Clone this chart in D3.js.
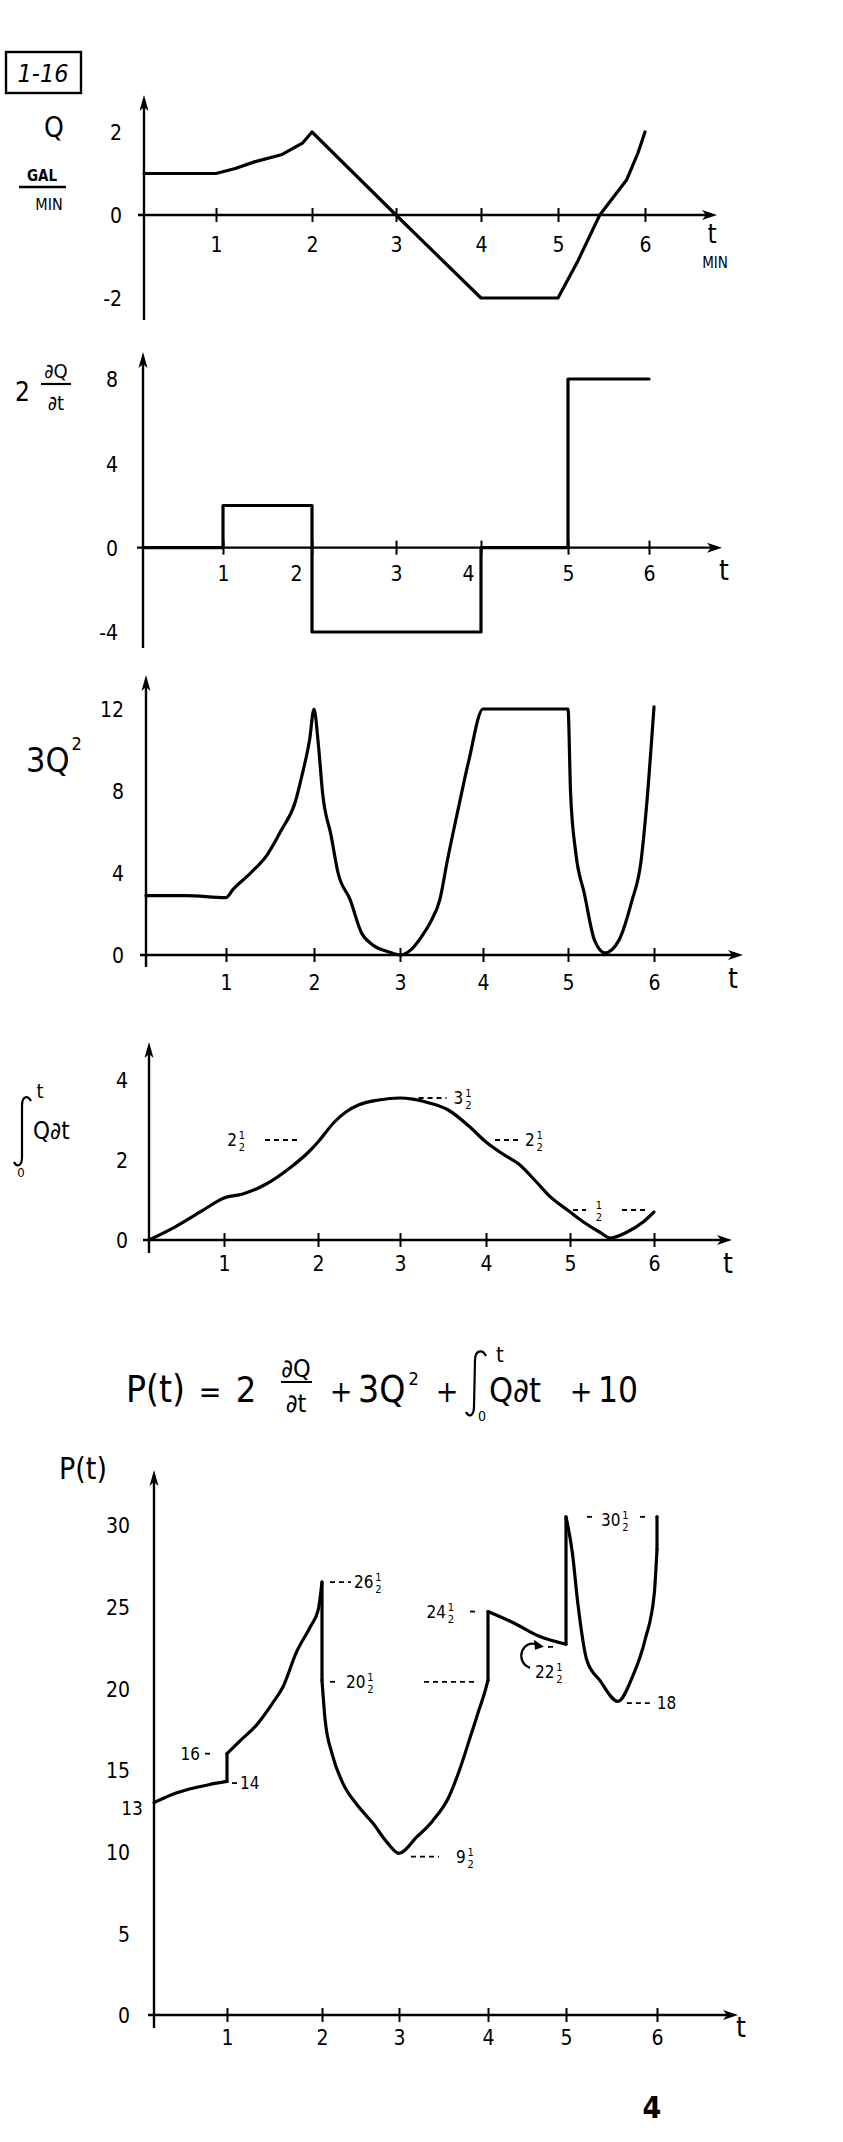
<!DOCTYPE html>
<html><head><meta charset="utf-8">
<script src="https://cdn.jsdelivr.net/npm/d3@7"></script>
<style>
html,body{margin:0;padding:0;background:#fff}
svg{display:block}
text{font-family:"DejaVu Sans Condensed","Liberation Sans Narrow","DejaVu Sans",sans-serif;fill:#000}
</style>
</head><body>
<svg id="c" width="843" height="2142"></svg>
<script>
// ---------- data ----------
const tTicks = [1, 2, 3, 4, 5, 6];
const qTickVals = [-2, 0, 2];
const dqTickVals = [-4, 0, 4, 8];
const q2TickVals = [0, 4, 8, 12];
const intTickVals = [0, 2, 4];
const pTickVals = [0, 5, 10, 15, 20, 25, 30];

const qT = [0, 1, 1.2, 1.4, 1.68, 1.9, 2, 3, 4, 5, 5.23, 5.48, 5.79, 5.92, 6];
const qV = [1, 1, 1.12, 1.28, 1.45, 1.73, 2, 0, -2, -2, -1.1, 0, 0.85, 1.5, 2];

const dqT = [0, 1, 1, 2, 2, 4, 4, 5, 5, 6];
const dqV = [0, 0, 2, 2, -4, -4, 0, 0, 8, 8];

const q2T = [0,0.5,1,1.08,1.28,1.47,1.63,1.79,1.86,1.95,2, 2.05,2.1,2.2,2.28,2.42,2.55,2.68,2.87,3, 3.13,3.26,3.38,3.48,3.57,3.7,3.83,4, 4.5,5,5.03,5.09,5.19,5.31,5.43, 5.59,5.74,5.85,5.91,6];
const q2V = [2.9,2.9,2.8,3.2,4.0,4.9,6.1,7.5,8.7,10.5,12, 10.3,7.9,5.8,4.0,2.7,1.1,0.5,0.15,0, 0.25,0.9,1.7,2.7,4.6,7.1,9.5,12, 12,12,7.9,5.0,3.0,0.7,0.1, 0.7,2.6,4.6,7.1,12.1];

const intT = [0,0.35,0.7,1,1.2,1.45,1.7,1.9,2,2.2, 2.34,2.5,2.74,3,3.15,3.35,3.56,3.8,4,4.2, 4.39,4.6,4.77,4.97,5.16,5.35,5.48,5.68,5.87,6];
const intV = [0,0.33,0.72,1.05,1.15,1.4,1.8,2.2,2.45,2.95, 3.2,3.38,3.5,3.55,3.52,3.42,3.25,2.85,2.45,2.15, 1.9,1.45,1.07,0.75,0.45,0.2,0.05,0.2,0.45,0.7];

const pT = [0,0.25,0.5,0.75,1, 1,1.14,1.31,1.48,1.59,1.73,1.88,1.96,2, 2,2.04,2.13,2.27,2.45,2.66,2.84,3, 3.2,3.38,3.56,3.68,3.8,3.9,3.96,4, 4,4.33,4.65,5, 5,5.07,5.13,5.23,5.37,5.57, 5.73,5.87,5.97,6,6];
const pV = [13,13.5,13.85,14.1,14.3, 16,16.8,17.75,19.1,20.1,22.2,23.8,24.8,26.5, 20.5,18.1,16,14.2,12.9,11.75,10.6,9.9, 10.9,11.9,13.35,15,17,18.7,19.7,20.5, 24.7,24,23.2,22.7, 30.5,28.3,25.2,21.7,20.5,19.2, 20.7,23,25.8,28.5,30.5];

// annotation values: anchor point (t, v), whole part, half fraction?
const intNotesT = [2, 3.1, 4, 5];
const intNotesV = [2.5, 3.55, 2.5, 0.75];
const intNotesWhole = ["2", "3", "2", ""];
const pNotesT = [1, 1, 2, 2, 4, 4, 5, 5, 5.57, 3];
const pNotesV = [16, 14.2, 26.5, 20.4, 24.7, 20.4, 22.6, 30.5, 19.1, 9.7];
const pNotesWhole = ["16", "14", "26", "20", "24", "", "22", "30", "18", "9"];
const pNotesHalf = [false, false, true, true, true, false, true, true, false, true];

// ---------- layout ----------
const svg = d3.select("#c");
const SW = 3.2;

const panels = [
  {T:qT, V:qV, yTicks:qTickVals, xr:[144,216,312,396,481,558,645], yd:[-2,2], yr:[298,132],
   xStart:138, xEnd:717, yTop:95, yBot:320, xLab:37, yPad:22, xDx:{}, smooth:false},
  {T:dqT, V:dqV, yTicks:dqTickVals, xr:[143,223,312,396,481,568,649], yd:[-4,8], yr:[632,379],
   xStart:137, xEnd:722, yTop:352, yBot:648, xLab:33, yPad:25, xDx:{2:-16,4:-13}, smooth:false},
  {T:q2T, V:q2V, yTicks:q2TickVals, xr:[146,226,314,400,483,568,654], yd:[0,12], yr:[955,709],
   xStart:140, xEnd:743, yTop:675, yBot:967, xLab:35, yPad:22, xDx:{}, smooth:true},
  {T:intT, V:intV, yTicks:intTickVals, xr:[149,224,318,400,486,570,654], yd:[0,4], yr:[1240,1080],
   xStart:143, xEnd:732, yTop:1042, yBot:1253, xLab:31, yPad:21, xDx:{}, smooth:true},
  {T:pT, V:pV, yTicks:pTickVals, xr:[154,227,322,399,488,566,657], yd:[0,30], yr:[2015,1525],
   xStart:148, xEnd:738, yTop:1470, yBot:2028, xLab:30, yPad:24, xDx:{}, smooth:true}
];

const scales = [];
panels.forEach((p, i) => {
  const x = d3.scaleLinear().domain([0,1,2,3,4,5,6]).range(p.xr);
  const y = d3.scaleLinear().domain(p.yd).range(p.yr);
  scales.push({x, y});
  const g = svg.append("g");
  const y0 = y(0), x0 = x(0);
  g.append("line").attr("x1", p.xStart).attr("x2", p.xEnd - 6).attr("y1", y0).attr("y2", y0)
    .attr("stroke", "#000").attr("stroke-width", 2.4);
  g.append("path").attr("d", `M${p.xEnd},${y0} L${p.xEnd-15},${y0-5} L${p.xEnd-11},${y0} L${p.xEnd-15},${y0+5}Z`)
    .attr("fill", "#000");
  g.append("line").attr("x1", x0).attr("x2", x0).attr("y1", p.yBot).attr("y2", p.yTop + 6)
    .attr("stroke", "#000").attr("stroke-width", 2.4);
  g.append("path").attr("d", `M${x0},${p.yTop} L${x0-4.5},${p.yTop+16} L${x0},${p.yTop+12} L${x0+4.5},${p.yTop+16}Z`)
    .attr("fill", "#000");
  const ax = d3.axisBottom(x).tickValues(tTicks).tickSizeInner(7).tickSizeOuter(0).tickFormat(d => String(d));
  const axg = g.append("g").attr("transform", `translate(0,${y0})`).call(ax);
  axg.select(".domain").remove();
  axg.selectAll(".tick line").attr("y1", -7).attr("y2", 7).attr("stroke-width", 2);
  axg.selectAll(".tick text").attr("y", p.xLab).attr("dy", 0).attr("font-size", 21)
    .attr("dx", d => p.xDx[d] || 0);
  const ay = d3.axisLeft(y).tickValues(p.yTicks).tickSize(0).tickPadding(p.yPad).tickFormat(d => String(d));
  const ayg = g.append("g").attr("transform", `translate(${x0},0)`).call(ay);
  ayg.select(".domain").remove();
  ayg.selectAll(".tick text").attr("font-size", 21).attr("dy", "0.38em");
  // curve: split into pieces at vertical jumps
  const pieces = [];
  let cur = [];
  p.T.forEach((t, k) => {
    if (k > 0 && t === p.T[k - 1] && p.smooth) {
      pieces.push(cur);
      g.append("line").attr("x1", x(t)).attr("x2", x(t)).attr("y1", y(p.V[k-1])).attr("y2", y(p.V[k]))
        .attr("stroke", "#000").attr("stroke-width", SW).attr("stroke-linecap", "round");
      cur = [];
    }
    cur.push([t, p.V[k]]);
  });
  pieces.push(cur);
  const line = d3.line().x(d => x(d[0])).y(d => y(d[1]))
    .curve(p.smooth ? d3.curveMonotoneX : d3.curveLinear);
  pieces.forEach(pc => {
    g.append("path").datum(pc).attr("d", line)
      .attr("fill", "none").attr("stroke", "#000").attr("stroke-width", SW)
      .attr("stroke-linejoin", "round").attr("stroke-linecap", "round");
  });
});

function txt(x, y, s, size, anchor, extra) {
  const t = svg.append("text").attr("x", x).attr("y", y).attr("font-size", size)
    .attr("text-anchor", anchor || "start").text(s);
  if (extra) extra(t);
  return t;
}
function dash(x1, x2, y) {
  svg.append("line").attr("x1", x1).attr("x2", x2).attr("y1", y).attr("y2", y)
    .attr("stroke", "#000").attr("stroke-width", 1.8).attr("stroke-dasharray", "5,4");
}
function mixed(xs, yc, whole, half, anchor) {
  const size = 17;
  const t = svg.append("text").attr("x", xs).attr("y", yc + 6).attr("font-size", size).text(whole);
  const w = whole ? t.node().getComputedTextLength() : 0;
  const fw = half ? 9 : 0;
  let left = xs;
  if (anchor === "end") { left = xs - w - fw; t.attr("x", left); }
  if (half) {
    const fx = left + w + 5;
    svg.append("text").attr("x", fx).attr("y", yc - 1).attr("font-size", 11).attr("text-anchor", "middle").text("1");
    svg.append("text").attr("x", fx).attr("y", yc + 11).attr("font-size", 11).attr("text-anchor", "middle").text("2");
  }
}

// ---------- panel 1 labels ----------
svg.append("rect").attr("x", 6).attr("y", 52).attr("width", 75).attr("height", 41)
  .attr("fill", "none").attr("stroke", "#000").attr("stroke-width", 2.4);
txt(43, 82, "1-16", 25, "middle", t => t.attr("font-style", "italic"));
txt(54, 137, "Q", 28, "middle");
txt(42, 181, "GAL", 15, "middle", t => t.attr("font-weight", "bold"));
svg.append("line").attr("x1", 19).attr("x2", 66).attr("y1", 187).attr("y2", 187).attr("stroke", "#000").attr("stroke-width", 2.4);
txt(49, 210, "MIN", 16, "middle");
txt(712, 243, "t", 26, "middle");
txt(715, 268, "MIN", 15, "middle");

// ---------- panel 2 labels ----------
txt(15, 401, "2", 26, "start");
txt(56, 378, "\u2202Q", 20, "middle");
svg.append("line").attr("x1", 41).attr("x2", 71).attr("y1", 384).attr("y2", 384).attr("stroke", "#000").attr("stroke-width", 2.2);
txt(56, 410, "\u2202t", 20, "middle");
txt(724, 580, "t", 28, "middle");

// ---------- panel 3 labels ----------
{
  const t3 = txt(26, 772, "3Q", 34, "start");
  const w = t3.node().getComputedTextLength();
  txt(26 + w + 2, 750, "2", 18, "start");
}
txt(733, 988, "t", 28, "middle");

// ---------- panel 4 labels ----------
svg.append("path").attr("d", "M31,1101 C27,1094 22,1097 22,1106 L22,1157 C22,1166 17,1168 14,1162")
  .attr("fill", "none").attr("stroke", "#000").attr("stroke-width", 2.2);
txt(40, 1098, "t", 20, "middle");
txt(21, 1177, "0", 13, "middle");
txt(33, 1139, "Q\u2202t", 24, "start");
txt(728, 1273, "t", 28, "middle");
{
  const {x, y} = scales[3];
  dash(x(intNotesT[0]) - 53, x(intNotesT[0]) - 18, y(intNotesV[0]));
  mixed(x(intNotesT[0]) - 72, y(intNotesV[0]), intNotesWhole[0], true, "end");
  dash(x(intNotesT[1]) + 10, x(intNotesT[1]) + 38, y(intNotesV[1]));
  mixed(x(intNotesT[1]) + 45, y(intNotesV[1]), intNotesWhole[1], true);
  dash(x(intNotesT[2]) + 9, x(intNotesT[2]) + 34, y(intNotesV[2]));
  mixed(x(intNotesT[2]) + 39, y(intNotesV[2]), intNotesWhole[2], true);
  dash(x(intNotesT[3]) + 3, x(intNotesT[3]) + 16, y(intNotesV[3]));
  mixed(x(intNotesT[3]) + 24, y(intNotesV[3]), intNotesWhole[3], true);
  dash(x(intNotesT[3]) + 52, x(intNotesT[3]) + 78, y(intNotesV[3]));
}

// ---------- equation ----------
txt(126, 1402, "P(t)", 37, "start");
txt(210, 1402, "=", 30, "middle");
txt(246, 1402, "2", 36, "middle");
txt(296, 1377, "\u2202Q", 25, "middle");
svg.append("line").attr("x1", 281).attr("x2", 312).attr("y1", 1382).attr("y2", 1382).attr("stroke", "#000").attr("stroke-width", 2);
txt(296, 1412, "\u2202t", 25, "middle");
txt(341, 1402, "+", 30, "middle");
{
  const t3 = txt(358, 1402, "3Q", 37, "start");
  const w = t3.node().getComputedTextLength();
  txt(358 + w + 3, 1385, "2", 18, "start");
}
txt(447, 1402, "+", 30, "middle");
svg.append("path").attr("d", "M486,1356 C482,1348 475,1351 475,1360 L474,1406 C474,1416 469,1418 466,1412")
  .attr("fill", "none").attr("stroke", "#000").attr("stroke-width", 2.2);
txt(500, 1362, "t", 22, "middle");
txt(482, 1421, "0", 14, "middle");
txt(489, 1402, "Q\u2202t", 34, "start");
txt(581, 1402, "+", 30, "middle");
txt(598, 1402, "10", 35, "start");

// ---------- P(t) panel labels ----------
txt(59, 1479, "P(t)", 30, "start");
txt(741, 2037, "t", 28, "middle");
{
  const {x, y} = scales[4];
  txt(x(0) - 11, y(pNotesV[0] - 3) + 12, "13", 19, "end");
  const N = (i) => [x(pNotesT[i]), y(pNotesV[i])];
  let a;
  a = N(0); dash(a[0] - 22, a[0] - 13, a[1]); mixed(a[0] - 27, a[1], pNotesWhole[0], pNotesHalf[0], "end");
  a = N(1); dash(a[0] + 5, a[0] + 11, a[1]); mixed(a[0] + 13, a[1], pNotesWhole[1], pNotesHalf[1]);
  a = N(2); dash(a[0] + 8, a[0] + 29, a[1]); mixed(a[0] + 32, a[1], pNotesWhole[2], pNotesHalf[2]);
  a = N(3); dash(a[0] + 8, a[0] + 17, a[1]); mixed(a[0] + 24, a[1], pNotesWhole[3], pNotesHalf[3]);
  a = N(4); dash(a[0] - 18, a[0] - 10, a[1]); mixed(a[0] - 33, a[1], pNotesWhole[4], pNotesHalf[4], "end");
  a = N(5); dash(a[0] - 64, a[0] - 10, a[1]);
  a = N(6);
  svg.append("path").attr("d", `M${a[0]-28},${a[1]-1} C${a[0]-44},${a[1]-8} ${a[0]-52},${a[1]+16} ${a[0]-36},${a[1]+22}`)
    .attr("fill", "none").attr("stroke", "#000").attr("stroke-width", 2.2);
  svg.append("path").attr("d", `M${a[0]-22},${a[1]+1} L${a[0]-32},${a[1]-6} L${a[0]-31},${a[1]+4}Z`).attr("fill", "#000");
  dash(a[0] - 18, a[0] - 12, a[1] + 1);
  mixed(a[0] - 31, a[1] + 26, pNotesWhole[6], pNotesHalf[6]);
  a = N(7); dash(a[0] + 21, a[0] + 27, a[1]); mixed(a[0] + 35, a[1] + 3, pNotesWhole[7], pNotesHalf[7]);
  dash(a[0] + 74, a[0] + 79, a[1]);
  a = N(8); dash(a[0] + 9, a[0] + 34, a[1]); mixed(a[0] + 39, a[1], pNotesWhole[8], pNotesHalf[8]);
  a = N(9); dash(a[0] + 12, a[0] + 40, a[1]); mixed(a[0] + 57, a[1], pNotesWhole[9], pNotesHalf[9]);
}

// page number
txt(652, 2118, "4", 30, "middle", t => t.attr("font-weight", "bold"));
</script>
</body></html>
